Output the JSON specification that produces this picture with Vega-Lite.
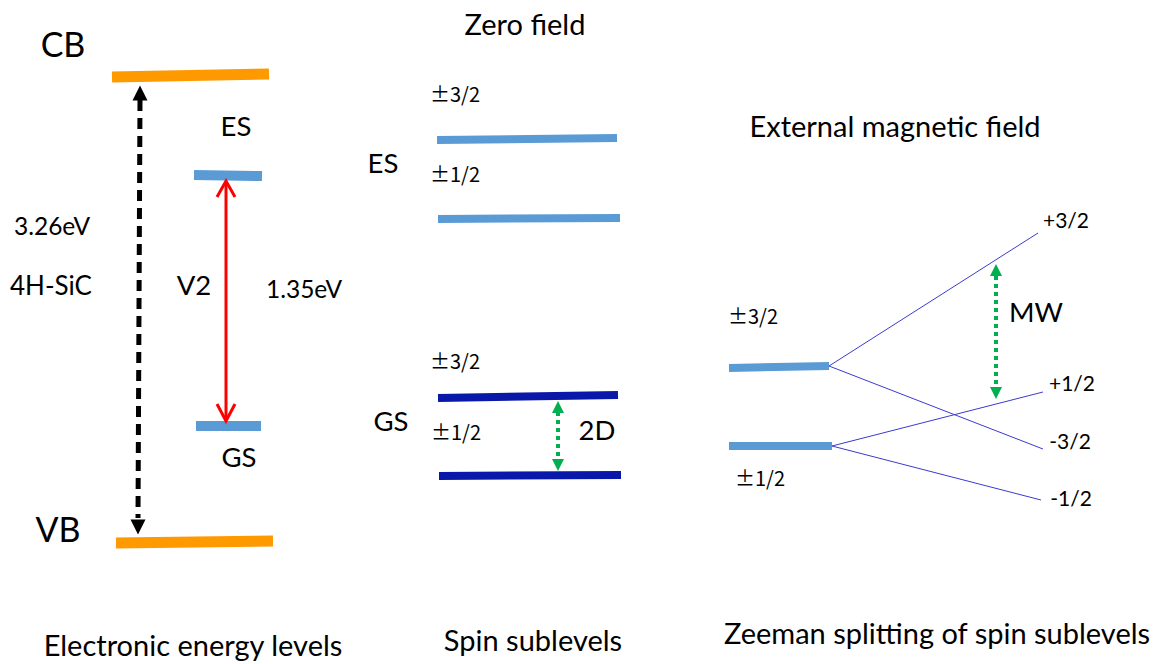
{
  "$schema": "https://vega.github.io/schema/vega-lite/v6.json",
  "width": 1167,
  "height": 664,
  "autosize": "none",
  "padding": 0,
  "background": "white",
  "config": {"view": {"stroke": null}},
  "resolve": {"scale": {"color": "independent", "shape": "independent"}},
  "datasets": {
    "levels": [
      {"name": "CB", "kind": "band", "x": 112, "y": 77, "x2": 269, "y2": 74},
      {"name": "VB", "kind": "band", "x": 116, "y": 543, "x2": 273, "y2": 541},
      {"name": "ES", "kind": "defect", "x": 194, "y": 175, "x2": 262, "y2": 176},
      {"name": "GS", "kind": "defect", "x": 196, "y": 426, "x2": 261, "y2": 426},
      {"name": "ES ±3/2", "kind": "excited", "x": 437, "y": 140, "x2": 617, "y2": 138},
      {"name": "ES ±1/2", "kind": "excited", "x": 438, "y": 219, "x2": 620, "y2": 218},
      {"name": "GS ±3/2", "kind": "ground", "x": 438, "y": 398, "x2": 618, "y2": 395},
      {"name": "GS ±1/2", "kind": "ground", "x": 439, "y": 476, "x2": 621, "y2": 475},
      {"name": "B ±3/2", "kind": "excited", "x": 729, "y": 368, "x2": 829, "y2": 366},
      {"name": "B ±1/2", "kind": "excited", "x": 729, "y": 446, "x2": 832, "y2": 446}
    ],
    "branches": [
      {"ms": "+3/2", "x": 829, "y": 366, "x2": 1038, "y2": 233},
      {"ms": "-3/2", "x": 829, "y": 366, "x2": 1043, "y2": 449},
      {"ms": "+1/2", "x": 832, "y": 446, "x2": 1043, "y2": 392},
      {"ms": "-1/2", "x": 832, "y": 446, "x2": 1041, "y2": 500}
    ],
    "shafts": [
      {"arrow": "gap", "x": 140, "y": 100, "x2": 138, "y2": 518},
      {"arrow": "V2", "x": 226, "y": 182, "x2": 226, "y2": 420},
      {"arrow": "2D", "x": 558, "y": 412, "x2": 558, "y2": 459},
      {"arrow": "MW", "x": 996, "y": 276, "x2": 996, "y2": 388}
    ],
    "heads": [
      {"arrow": "gap", "dir": "up", "x": 140, "y": 93},
      {"arrow": "gap", "dir": "down", "x": 138, "y": 527},
      {"arrow": "2D", "dir": "up", "x": 558, "y": 407},
      {"arrow": "2D", "dir": "down", "x": 558, "y": 465},
      {"arrow": "MW", "dir": "up", "x": 996, "y": 270},
      {"arrow": "MW", "dir": "down", "x": 996, "y": 393}
    ],
    "chevrons": [
      {"end": "top", "o": 0, "x": 217, "y": 197},
      {"end": "top", "o": 1, "x": 226, "y": 181},
      {"end": "top", "o": 2, "x": 235, "y": 197},
      {"end": "bottom", "o": 0, "x": 217, "y": 404},
      {"end": "bottom", "o": 1, "x": 226, "y": 421},
      {"end": "bottom", "o": 2, "x": 235, "y": 404}
    ],
    "labels": [
      {"text": "CB", "role": "big", "x": 63, "y": 57},
      {"text": "VB", "role": "big", "x": 58, "y": 542},
      {"text": "ES", "role": "mid", "x": 236, "y": 136},
      {"text": "GS", "role": "mid", "x": 239, "y": 467},
      {"text": "3.26eV", "role": "num", "x": 52, "y": 235},
      {"text": "4H-SiC", "role": "mid2", "x": 51, "y": 295},
      {"text": "V2", "role": "mid", "x": 194, "y": 295},
      {"text": "1.35eV", "role": "num", "x": 304, "y": 298},
      {"text": "ES", "role": "mid", "x": 383, "y": 173},
      {"text": "GS", "role": "mid", "x": 391, "y": 431},
      {"text": "2D", "role": "mid", "x": 597, "y": 440},
      {"text": "MW", "role": "mid", "x": 1036, "y": 322},
      {"text": "+3/2", "role": "small", "x": 1066, "y": 228},
      {"text": "+1/2", "role": "small", "x": 1072, "y": 391},
      {"text": "-3/2", "role": "small", "x": 1070, "y": 449},
      {"text": "-1/2", "role": "small", "x": 1071, "y": 506},
      {"text": "Zero field", "role": "title", "x": 525, "y": 35},
      {"text": "External magnetic field", "role": "title", "x": 895, "y": 137},
      {"text": "Electronic energy levels", "role": "title", "x": 193, "y": 656},
      {"text": "Spin sublevels", "role": "title", "x": 533, "y": 651},
      {"text": "Zeeman splitting of spin sublevels", "role": "title", "x": 937, "y": 644}
    ],
    "spins": [
      {"text": "±3/2", "x": 455, "y": 102},
      {"text": "±1/2", "x": 455, "y": 182},
      {"text": "±3/2", "x": 455, "y": 369},
      {"text": "±1/2", "x": 456, "y": 440},
      {"text": "±3/2", "x": 753, "y": 324},
      {"text": "±1/2", "x": 760, "y": 486}
    ]
  },
  "layer": [
    {
      "data": {"name": "branches"},
      "mark": {"type": "rule", "color": "#3B3BD0", "strokeWidth": 1},
      "encoding": {
        "x": {"field": "x", "type": "quantitative", "scale": {"domain": [0, 1167], "nice": false, "zero": false}, "axis": null},
        "y": {"field": "y", "type": "quantitative", "scale": {"domain": [0, 664], "nice": false, "zero": false, "reverse": true}, "axis": null},
        "x2": {"field": "x2"},
        "y2": {"field": "y2"}
      }
    },
    {
      "data": {"name": "levels"},
      "transform": [{"filter": "datum.kind === 'band'"}],
      "mark": {"type": "rule", "strokeCap": "butt", "color": "#FF9900", "strokeWidth": 11},
      "encoding": {
        "x": {"field": "x", "type": "quantitative", "axis": null},
        "y": {"field": "y", "type": "quantitative", "axis": null},
        "x2": {"field": "x2"},
        "y2": {"field": "y2"}
      }
    },
    {
      "data": {"name": "levels"},
      "transform": [{"filter": "datum.kind === 'defect'"}],
      "mark": {"type": "rule", "strokeCap": "butt", "color": "#5B9BD5", "strokeWidth": 10},
      "encoding": {
        "x": {"field": "x", "type": "quantitative", "axis": null},
        "y": {"field": "y", "type": "quantitative", "axis": null},
        "x2": {"field": "x2"},
        "y2": {"field": "y2"}
      }
    },
    {
      "data": {"name": "levels"},
      "transform": [{"filter": "datum.kind === 'excited' || datum.kind === 'ground'"}],
      "mark": {"type": "rule", "strokeCap": "butt", "strokeWidth": 8},
      "encoding": {
        "x": {"field": "x", "type": "quantitative", "axis": null},
        "y": {"field": "y", "type": "quantitative", "axis": null},
        "x2": {"field": "x2"},
        "y2": {"field": "y2"},
        "color": {"field": "kind", "type": "nominal", "legend": null,
          "scale": {"domain": ["excited", "ground"], "range": ["#5B9BD5", "#0A18AA"]}}
      }
    },
    {
      "data": {"name": "shafts"},
      "transform": [{"filter": "datum.arrow === 'gap'"}],
      "mark": {"type": "rule", "color": "#000000", "strokeWidth": 5, "strokeDash": [11, 7], "strokeCap": "butt"},
      "encoding": {
        "x": {"field": "x", "type": "quantitative", "axis": null},
        "y": {"field": "y", "type": "quantitative", "axis": null},
        "x2": {"field": "x2"},
        "y2": {"field": "y2"}
      }
    },
    {
      "data": {"name": "shafts"},
      "transform": [{"filter": "datum.arrow === 'V2'"}],
      "mark": {"type": "rule", "color": "#FF0000", "strokeWidth": 3},
      "encoding": {
        "x": {"field": "x", "type": "quantitative", "axis": null},
        "y": {"field": "y", "type": "quantitative", "axis": null},
        "x2": {"field": "x2"},
        "y2": {"field": "y2"}
      }
    },
    {
      "data": {"name": "shafts"},
      "transform": [{"filter": "datum.arrow === '2D' || datum.arrow === 'MW'"}],
      "mark": {"type": "rule", "color": "#00B050", "strokeWidth": 4, "strokeDash": [4, 4], "strokeCap": "butt"},
      "encoding": {
        "x": {"field": "x", "type": "quantitative", "axis": null},
        "y": {"field": "y", "type": "quantitative", "axis": null},
        "x2": {"field": "x2"},
        "y2": {"field": "y2"}
      }
    },
    {
      "data": {"name": "chevrons"},
      "mark": {"type": "line", "color": "#FF0000", "strokeWidth": 3, "strokeJoin": "miter"},
      "encoding": {
        "x": {"field": "x", "type": "quantitative", "axis": null},
        "y": {"field": "y", "type": "quantitative", "axis": null},
        "detail": {"field": "end"},
        "order": {"field": "o", "type": "quantitative"}
      }
    },
    {
      "data": {"name": "heads"},
      "transform": [{"filter": "datum.arrow === 'gap'"}],
      "mark": {"type": "point", "filled": true, "opacity": 1, "strokeWidth": 0, "size": 225, "color": "#000000"},
      "encoding": {
        "x": {"field": "x", "type": "quantitative", "axis": null},
        "y": {"field": "y", "type": "quantitative", "axis": null},
        "shape": {"field": "dir", "type": "nominal", "legend": null,
          "scale": {"domain": ["up", "down"], "range": ["M-1,1L0,-1L1,1Z", "M-1,-1L0,1L1,-1Z"]}}
      }
    },
    {
      "data": {"name": "heads"},
      "transform": [{"filter": "datum.arrow !== 'gap'"}],
      "mark": {"type": "point", "filled": true, "opacity": 1, "strokeWidth": 0, "size": 144, "color": "#00B050"},
      "encoding": {
        "x": {"field": "x", "type": "quantitative", "axis": null},
        "y": {"field": "y", "type": "quantitative", "axis": null},
        "shape": {"field": "dir", "type": "nominal", "legend": null,
          "scale": {"domain": ["up", "down"], "range": ["M-1,1L0,-1L1,1Z", "M-1,-1L0,1L1,-1Z"]}}
      }
    },
    {
      "data": {"name": "labels"},
      "transform": [{"filter": "datum.role === 'big'"}],
      "mark": {"type": "text", "font": "Lato", "fontSize": 34, "align": "center", "baseline": "alphabetic", "color": "#000000"},
      "encoding": {
        "x": {"field": "x", "type": "quantitative", "axis": null},
        "y": {"field": "y", "type": "quantitative", "axis": null},
        "text": {"field": "text"}
      }
    },
    {
      "data": {"name": "labels"},
      "transform": [{"filter": "datum.role === 'mid'"}],
      "mark": {"type": "text", "font": "Lato", "fontSize": 27.5, "align": "center", "baseline": "alphabetic", "color": "#000000"},
      "encoding": {
        "x": {"field": "x", "type": "quantitative", "axis": null},
        "y": {"field": "y", "type": "quantitative", "axis": null},
        "text": {"field": "text"}
      }
    },
    {
      "data": {"name": "labels"},
      "transform": [{"filter": "datum.role === 'mid2'"}],
      "mark": {"type": "text", "font": "Lato", "fontSize": 26, "align": "center", "baseline": "alphabetic", "color": "#000000"},
      "encoding": {
        "x": {"field": "x", "type": "quantitative", "axis": null},
        "y": {"field": "y", "type": "quantitative", "axis": null},
        "text": {"field": "text"}
      }
    },
    {
      "data": {"name": "labels"},
      "transform": [{"filter": "datum.role === 'num'"}],
      "mark": {"type": "text", "font": "Lato", "fontSize": 24.5, "align": "center", "baseline": "alphabetic", "color": "#000000"},
      "encoding": {
        "x": {"field": "x", "type": "quantitative", "axis": null},
        "y": {"field": "y", "type": "quantitative", "axis": null},
        "text": {"field": "text"}
      }
    },
    {
      "data": {"name": "labels"},
      "transform": [{"filter": "datum.role === 'title'"}],
      "mark": {"type": "text", "font": "Lato", "fontSize": 29, "align": "center", "baseline": "alphabetic", "color": "#000000"},
      "encoding": {
        "x": {"field": "x", "type": "quantitative", "axis": null},
        "y": {"field": "y", "type": "quantitative", "axis": null},
        "text": {"field": "text"}
      }
    },
    {
      "data": {"name": "labels"},
      "transform": [{"filter": "datum.role === 'small'"}],
      "mark": {"type": "text", "font": "Lato", "fontSize": 21, "align": "center", "baseline": "alphabetic", "color": "#000000"},
      "encoding": {
        "x": {"field": "x", "type": "quantitative", "axis": null},
        "y": {"field": "y", "type": "quantitative", "axis": null},
        "text": {"field": "text"}
      }
    },
    {
      "data": {"name": "spins"},
      "mark": {"type": "text", "font": "Noto Sans CJK JP", "fontSize": 20, "align": "center", "baseline": "alphabetic", "color": "#000000"},
      "encoding": {
        "x": {"field": "x", "type": "quantitative", "axis": null},
        "y": {"field": "y", "type": "quantitative", "axis": null},
        "text": {"field": "text"}
      }
    }
  ]
}
